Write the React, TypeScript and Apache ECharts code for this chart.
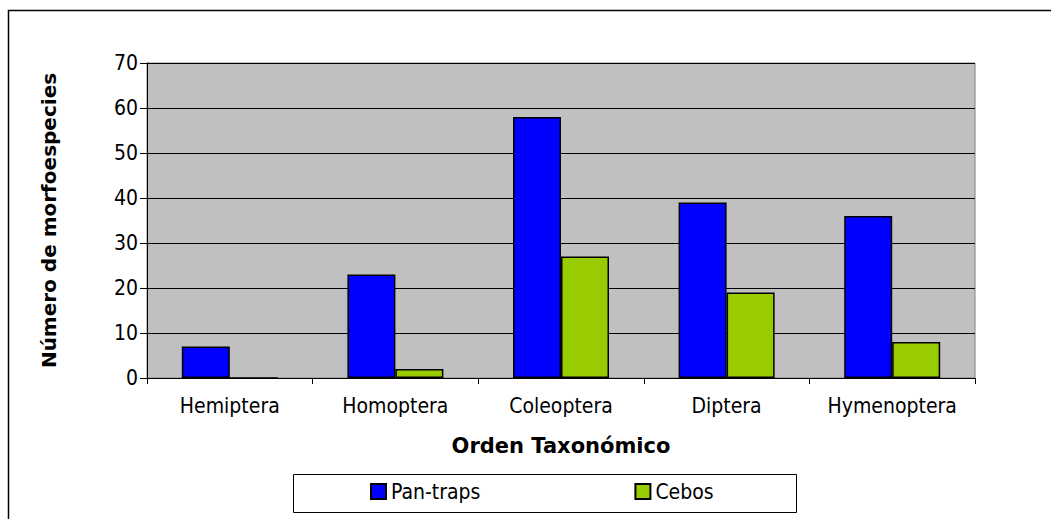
import React, { useEffect, useRef } from "react";
import * as echarts from "echarts";

const categories = ["Hemiptera", "Homoptera", "Coleoptera", "Diptera", "Hymenoptera"];
const panTraps = [7, 23, 58, 39, 36];
const cebos = [0, 2, 27, 19, 8];
const seriesNames = ["Pan-traps", "Cebos"];
const yTitle = "Número de morfoespecies";
const xTitle = "Orden Taxonómico";

const FONT = "'DejaVu Sans Condensed', 'DejaVu Sans', sans-serif";
const BOLD = "'DejaVu Sans', sans-serif";

export default function App() {
  const ref = useRef<HTMLDivElement>(null);
  useEffect(() => {
    if (!ref.current) return;
    const chart = echarts.init(ref.current, undefined, { renderer: "svg" });
    chart.setOption({
      animation: false,
      backgroundColor: "#ffffff",
      textStyle: { fontFamily: FONT },
      grid: {
        left: 147,
        right: 76,
        top: 63,
        bottom: 141,
        show: true,
        backgroundColor: "#c0c0c0",
        borderColor: "#808080",
        borderWidth: 1,
      },
      legend: {
        left: 370,
        top: 481,
        padding: 0,
        itemGap: 154,
        itemWidth: 15,
        itemHeight: 15,
        icon: "rect",
        textStyle: { fontFamily: FONT, fontSize: 21, color: "#000" },
        data: seriesNames,
      },
      xAxis: {
        type: "category",
        data: categories,
        boundaryGap: true,
        axisLine: { lineStyle: { color: "#000", width: 1 } },
        axisTick: { show: true, length: 6, interval: 0, lineStyle: { color: "#000" } },
        axisLabel: { color: "#000", fontSize: 21, fontFamily: FONT, margin: 17, interval: 0 },
        name: xTitle,
        nameLocation: "middle",
        nameGap: 57,
        nameTextStyle: { fontFamily: BOLD, fontWeight: "bold", fontSize: 21, color: "#000" },
        splitLine: { show: false },
      },
      yAxis: {
        type: "value",
        min: 0,
        max: 70,
        interval: 10,
        axisLine: { show: true, lineStyle: { color: "#000", width: 1 } },
        axisTick: { show: true, length: 7, lineStyle: { color: "#000" } },
        axisLabel: { color: "#000", fontSize: 21, fontFamily: FONT, margin: 9 },
        splitLine: { show: true, lineStyle: { color: "#000", width: 1 } },
        name: yTitle,
        nameLocation: "middle",
        nameRotate: 90,
        nameGap: 88,
        nameTextStyle: { fontFamily: BOLD, fontWeight: "bold", fontSize: 20, color: "#000" },
      },
      series: [
        {
          name: seriesNames[0],
          type: "bar",
          data: panTraps,
          barWidth: 48,
          barGap: "0%",
          itemStyle: { color: "#0000ff", borderColor: "#000", borderWidth: 1.5 },
        },
        {
          name: seriesNames[1],
          type: "bar",
          data: cebos,
          barWidth: 48,
          barGap: "0%",
          itemStyle: { color: "#99cc00", borderColor: "#000", borderWidth: 1.5 },
        },
      ],
      graphic: [
        {
          type: "rect",
          shape: { x: 8.5, y: 10.5, width: 1100, height: 600 },
          style: { fill: "none", stroke: "#000", lineWidth: 1.5 },
          silent: true,
          z: -1,
        },
        {
          type: "rect",
          shape: { x: 293.5, y: 474.5, width: 503, height: 38 },
          style: { fill: "none", stroke: "#000", lineWidth: 1 },
          silent: true,
        },
      ],
    });
    return () => chart.dispose();
  }, []);
  return (
    <div
      ref={ref}
      style={{ position: "absolute", left: 0, top: 0, width: 1051, height: 519 }}
    />
  );
}
